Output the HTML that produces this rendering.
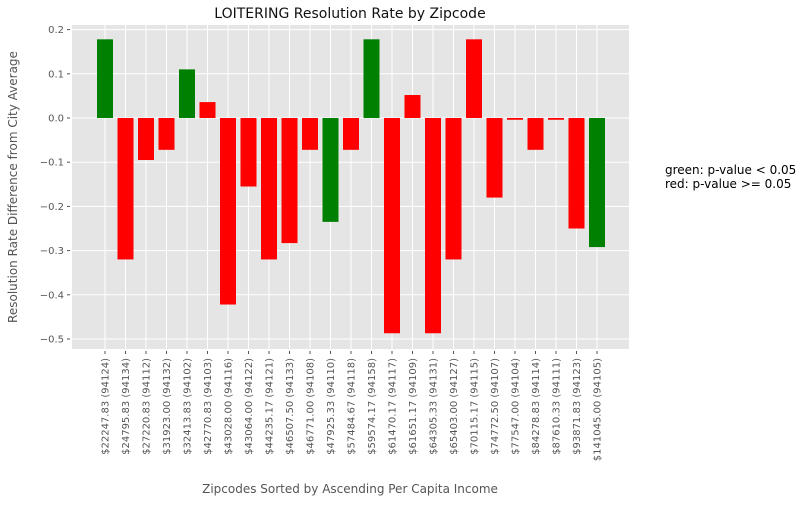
<!DOCTYPE html>
<html><head><meta charset="utf-8"><style>
body{margin:0;background:#fff;font-family:"Liberation Sans","DejaVu Sans",sans-serif}
</style></head><body>
<svg id="chart" width="808" height="503" xmlns="http://www.w3.org/2000/svg" style="font-family:'DejaVu Sans','Liberation Sans',sans-serif">
<rect x="72" y="25" width="557" height="324" fill="#e5e5e5"/>
<g id="grid"></g><g id="bars"></g><g id="yticks"></g><g id="xticks"></g>
<text x="350" y="18" text-anchor="middle" font-size="14" fill="#111">LOITERING Resolution Rate by Zipcode</text>
<text transform="translate(17,187) rotate(-90)" text-anchor="middle" font-size="12" fill="#555">Resolution Rate Difference from City Average</text>
<text x="350" y="493" text-anchor="middle" font-size="12" fill="#555">Zipcodes Sorted by Ascending Per Capita Income</text>
<text x="665" y="174" font-size="12" fill="#000">green: p-value &lt; 0.05</text>
<text x="665" y="188" font-size="12" fill="#000">red: p-value &gt;= 0.05</text>
</svg>
<script>
const categories=["$22247.83 (94124)","$24795.83 (94134)","$27220.83 (94112)","$31923.00 (94132)","$32413.83 (94102)","$42770.83 (94103)","$43028.00 (94116)","$43064.00 (94122)","$44235.17 (94121)","$46507.50 (94133)","$46771.00 (94108)","$47925.33 (94110)","$57484.67 (94118)","$59574.17 (94158)","$61470.17 (94117)","$61651.17 (94109)","$64305.33 (94131)","$65403.00 (94127)","$70115.17 (94115)","$74772.50 (94107)","$77547.00 (94104)","$84278.83 (94114)","$87610.33 (94111)","$93871.83 (94123)","$141045.00 (94105)"];
const values=[0.178,-0.32,-0.095,-0.072,0.11,0.036,-0.422,-0.155,-0.32,-0.283,-0.072,-0.235,-0.072,0.178,-0.487,0.052,-0.487,-0.32,0.178,-0.18,-0.004,-0.072,-0.004,-0.25,-0.292];
const significant=[1,0,0,0,1,0,0,0,0,0,0,1,0,1,0,0,0,0,0,0,0,0,0,0,1];
const yTicks=[0.2,0.1,0.0,-0.1,-0.2,-0.3,-0.4,-0.5];
const NS="http://www.w3.org/2000/svg";
const X=i=>105+i*20.5, Y=v=>118-v*442;
function mk(t,a,p){const e=document.createElementNS(NS,t);for(const k in a)e.setAttribute(k,a[k]);document.getElementById(p).appendChild(e);return e;}
yTicks.forEach(t=>{
 const g=mk('line',{x1:72,x2:629,y1:Y(t),y2:Y(t),stroke:'#fff','stroke-width':1},'grid');
 
 
 const tx=mk('text',{x:64,y:Y(t)+3.5,'text-anchor':'end','font-size':10,fill:'#555'},'yticks');
 
 
 tx.textContent=(t<0?'\u22120.':'0.')+Math.abs(Math.round(t*10));
 const tk=mk('line',{x1:67,x2:70,y1:Y(t),y2:Y(t),stroke:'#555'},'yticks');
 
 
});
categories.forEach((c,i)=>{
 const gl=mk('line',{x1:X(i),x2:X(i),y1:25,y2:349,stroke:'#fff','stroke-width':1},'grid');
 
 
 const v=values[i];
 const b=mk('rect',{x:X(i)-8,width:16,y:Math.min(Y(v),Y(0)),height:Math.abs(Y(v)-Y(0)),fill:significant[i]?'#008000':'#ff0000'},'bars');
 
 
 const tk=mk('line',{x1:X(i),x2:X(i),y1:351,y2:354,stroke:'#555'},'xticks');
 
 
 const t=mk('text',{transform:`translate(${X(i)+3.5},358) rotate(-90)`,'text-anchor':'end','font-size':10,fill:'#555'},'xticks');
 
 
 t.textContent=c;
});
</script>
</body></html>
